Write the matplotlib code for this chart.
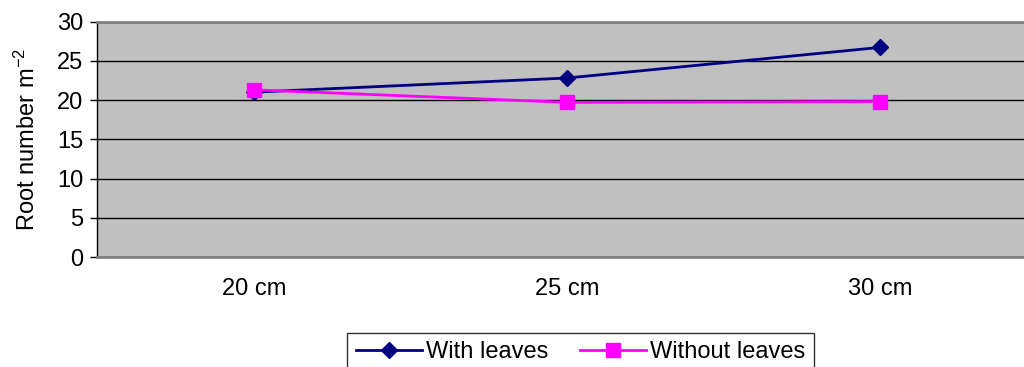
import matplotlib.pyplot as plt

plt.rcParams["font.family"] = ["Liberation Sans", "DejaVu Sans"]
plt.rcParams["mathtext.fontset"] = "custom"
plt.rcParams["mathtext.rm"] = "Liberation Sans"
plt.rcParams["mathtext.it"] = "Liberation Sans"

categories = ["20 cm", "25 cm", "30 cm"]
with_leaves = [21.0, 22.8, 26.7]
without_leaves = [21.3, 19.7, 19.8]
y_ticks = [0, 5, 10, 15, 20, 25, 30]

fig = plt.figure(figsize=(10.24, 3.67), dpi=100)
ax = fig.add_axes([0.0952, 0.2997, 0.917, 0.6417])
ax.set_facecolor("#C0C0C0")

x = list(range(len(categories)))
ax.plot(x, with_leaves, color="#000080", lw=2, marker="D", ms=8,
        label="With leaves", zorder=3, clip_on=False)
ax.plot(x, without_leaves, color="#FF00FF", lw=2, marker="s", ms=10,
        label="Without leaves", zorder=4, clip_on=False)

ax.set_xlim(-0.5, 2.5)
ax.set_ylim(0, 30)
ax.set_xticks(x)
ax.set_xticklabels(categories)
ax.set_yticks(y_ticks)
ax.tick_params(axis="x", length=0, pad=15, labelsize=17)
ax.tick_params(axis="y", length=5, width=1, pad=5, labelsize=17, color="black")

ax.grid(axis="y", color="black", lw=1)
ax.set_axisbelow(True)

ax.spines["left"].set_color("black")
ax.spines["left"].set_linewidth(1)
ax.spines["top"].set_color("#808080")
ax.spines["top"].set_linewidth(2)
ax.spines["bottom"].set_color("#808080")
ax.spines["bottom"].set_linewidth(2)
ax.spines["right"].set_visible(False)

ax.set_ylabel(r"Root number m$^{\mathregular{-2}}$", fontsize=17)
ax.yaxis.set_label_coords(-0.061, 0.5)

leg = fig.legend(loc="upper center", bbox_to_anchor=(0.567, 0.093), ncol=2,
                 fontsize=17, frameon=True, fancybox=False, edgecolor="black",
                 borderpad=0.35, columnspacing=1.3, handletextpad=0.2,
                 handlelength=2.8, borderaxespad=0)
leg.get_frame().set_linewidth(1)

plt.savefig("out.png", dpi=100)
